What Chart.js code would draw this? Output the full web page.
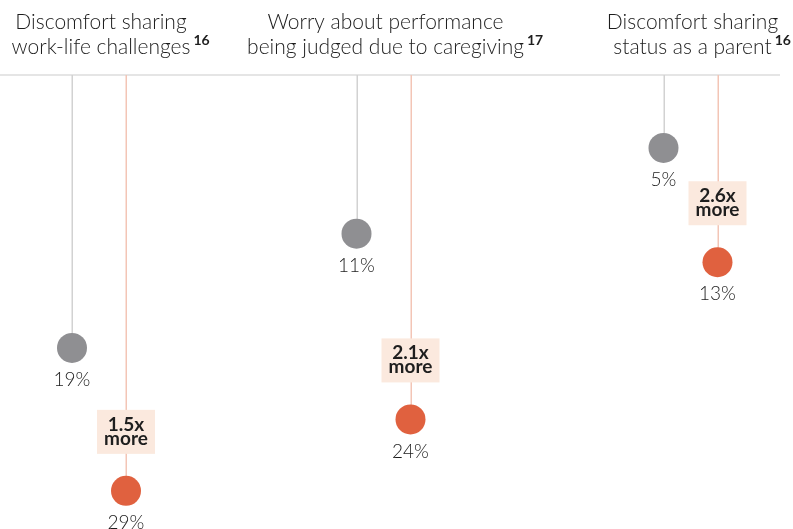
<!DOCTYPE html>
<html>
<head>
<meta charset="utf-8">
<script src="https://cdn.jsdelivr.net/npm/chart.js@4"></script>
<style>
  html, body { margin: 0; padding: 0; background: #fff; }
  #wrap { width: 793px; height: 529px; }
</style>
</head>
<body>
<div id="wrap"><canvas id="chart" width="793" height="529"></canvas></div>
<script>
/* -------- Data -------- */
const titleLine1 = ["Discomfort sharing", "Worry about performance", "Discomfort sharing"];
const titleLine2 = ["work-life challenges", "being judged due to caregiving", "status as a parent"];
const footnotes = ["16", "17", "16"];
const baselineValues = [19, 11, 5];      // grey dots
const comparisonValues = [29, 24, 13];   // orange dots
const ratioLabels = ["1.5x", "2.1x", "2.6x"];
const ratioSuffix = "more";

/* -------- Layout -------- */
const groupX = [99, 383.5, 690.5];
const pairHalf = 27;
const yMax = 31.67;

const GREY = "#8f8f92";
const ORANGE = "#e0613f";
const TEXT = "#1c1c1c";
const LIGHT = "300";
const FAMILY = "Lato, 'Open Sans', sans-serif";

const greyPoints = baselineValues.map((v, i) => ({ x: groupX[i] - pairHalf, y: v }));
const orangePoints = comparisonValues.map((v, i) => ({ x: groupX[i] + pairHalf, y: v }));

/* ---------- Decorations ---------- */
const decor = {
  id: "decor",
  beforeDatasetsDraw(chart) {
    const { ctx, chartArea, scales: { x, y } } = chart;
    const top = chartArea.top - 1.5;
    ctx.save();
    // header rule
    ctx.strokeStyle = "#dcdcdc";
    ctx.lineWidth = 1.5;
    ctx.beginPath();
    ctx.moveTo(0, top);
    ctx.lineTo(780, top);
    ctx.stroke();
    // stems
    const stem = (pts, color) => {
      ctx.strokeStyle = color;
      ctx.lineWidth = 1.5;
      pts.forEach(p => {
        const px = Math.round(x.getPixelForValue(p.x)) + 0.25;
        ctx.beginPath();
        ctx.moveTo(px, top);
        ctx.lineTo(px, y.getPixelForValue(p.y));
        ctx.stroke();
      });
    };
    stem(greyPoints, "#d2d2d2");
    stem(orangePoints, "#f3c5b6");

    // ratio boxes (over stem, behind dots)
    orangePoints.forEach((p, i) => {
      const cx = x.getPixelForValue(p.x);
      const cy = y.getPixelForValue(p.y) - 59;
      ctx.fillStyle = "#fbe9de";
      ctx.fillRect(cx - 29, cy - 22, 58, 44);
      ctx.fillStyle = "#1e1e1e";
      ctx.textAlign = "center";
      ctx.textBaseline = "alphabetic";
      ctx.font = "bold 19px " + FAMILY;
      ctx.fillText(ratioLabels[i], cx, cy - 1);
      ctx.fillText(ratioSuffix, cx, cy + 13);
    });
    ctx.restore();
  },
  afterDatasetsDraw(chart) {
    const { ctx, scales: { x, y } } = chart;
    ctx.save();
    ctx.fillStyle = TEXT;
    ctx.textAlign = "center";
    ctx.textBaseline = "middle";
    ctx.font = LIGHT + " 19px " + FAMILY;
    const label = (pts) => pts.forEach(p => {
      ctx.fillText(p.y + "%", x.getPixelForValue(p.x), y.getPixelForValue(p.y) + 32);
    });
    label(greyPoints);
    label(orangePoints);

    // titles
    ctx.textBaseline = "alphabetic";
    groupX.forEach((gx, i) => {
      const cx = x.getPixelForValue(gx) + 2;
      ctx.font = LIGHT + " 21px " + FAMILY;
      ctx.textAlign = "center";
      ctx.fillStyle = TEXT;
      ctx.fillText(titleLine1[i], cx, 29);
      ctx.fillText(titleLine2[i], cx, 54);
      const w = ctx.measureText(titleLine2[i]).width;
      ctx.font = "bold 14px " + FAMILY;
      ctx.textAlign = "left";
      ctx.fillStyle = "#1e1e1e";
      ctx.fillText(footnotes[i], cx + w / 2 + 3, 45);
    });
    ctx.restore();
  }
};

/* ---------- Chart ---------- */
new Chart(document.getElementById("chart").getContext("2d"), {
  type: "scatter",
  data: {
    datasets: [
      { label: "Baseline", data: greyPoints, backgroundColor: GREY, borderWidth: 0, pointRadius: 15, pointHoverRadius: 15 },
      { label: "Comparison", data: orangePoints, backgroundColor: ORANGE, borderWidth: 0, pointRadius: 15, pointHoverRadius: 15 }
    ]
  },
  options: {
    responsive: false,
    animation: false,
    events: [],
    layout: { autoPadding: false, padding: { top: 76.5, left: 0, right: 0, bottom: 0 } },
    plugins: { legend: { display: false }, tooltip: { enabled: false } },
    scales: {
      x: { type: "linear", min: 0, max: 793, display: false },
      y: { type: "linear", min: 0, max: yMax, reverse: true, display: false }
    }
  },
  plugins: [decor]
});
</script>
</body>
</html>
